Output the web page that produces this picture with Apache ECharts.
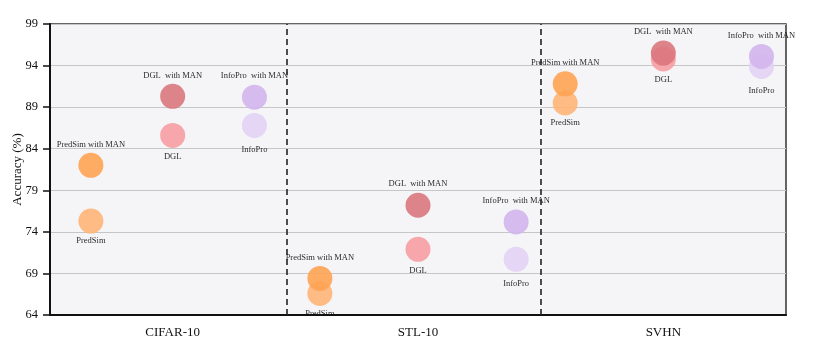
<!DOCTYPE html>
<html>
<head>
<meta charset="utf-8">
<script src="https://cdn.jsdelivr.net/npm/echarts@6/dist/echarts.min.js"></script>
<style>html,body{margin:0;padding:0;background:#fff;}#c{width:819px;height:359px;}</style>
</head>
<body>
<div id="c"></div>
<script>
// Dataset (x-axis tick) labels and their positions
const datasets = ['CIFAR-10', 'STL-10', 'SVHN'];
const datasetPos = [1.5, 4.5, 7.5];
const separators = [2.9, 6.0];

// x positions of each method within each dataset group
const xPredSim = [0.5, 3.3, 6.3];
const xDGL = [1.5, 4.5, 7.5];
const xInfoPro = [2.5, 5.7, 8.7];

// Accuracy values (%)
const predSimMAN = [82.0, 68.4, 91.8];
const predSim = [75.3, 66.6, 89.5];
const dglMAN = [90.3, 77.2, 95.5];
const dgl = [85.6, 71.9, 94.8];
const infoProMAN = [90.2, 75.2, 95.1];
const infoPro = [86.8, 70.7, 93.9];

const yTicks = [64, 69, 74, 79, 84, 89, 94, 99];

const FONT = '"Liberation Serif", "DejaVu Serif", serif';

function pts(xs, ys) { return xs.map((x, i) => [x, ys[i]]); }

function mk(name, text, xs, ys, color, pos, dist) {
  return {
    name: name,
    type: 'scatter',
    symbolSize: 25,
    data: pts(xs, ys),
    itemStyle: { color: color, opacity: 0.9 },
    label: {
      show: true,
      position: pos,
      distance: dist,
      formatter: text,
      fontFamily: FONT,
      fontSize: 8.5,
      color: '#111'
    },
    emphasis: { disabled: true }
  };
}

const series = [
  mk('PredSim', 'PredSim', xPredSim, predSim, '#FFB575', 'bottom', 3),
  mk('PredSim with MAN', 'PredSim with MAN', xPredSim, predSimMAN, '#FFA352', 'top', 4),
  mk('DGL', 'DGL', xDGL, dgl, '#F79EA2', 'bottom', 4),
  mk('DGL with MAN', 'DGL  with MAN', xDGL, dglMAN, '#DA777D', 'top', 4),
  mk('InfoPro', 'InfoPro', xInfoPro, infoPro, '#E2D3F3', 'bottom', 7),
  mk('InfoPro with MAN', 'InfoPro  with MAN', xInfoPro, infoProMAN, '#D3B5EC', 'top', 4)
];

series[0].markLine = {
  silent: true,
  symbol: ['none', 'none'],
  label: { show: false },
  lineStyle: { color: '#222', type: [6, 4], width: 1.6 },
  data: separators.map(v => ({ xAxis: v }))
};

const chart = echarts.init(document.getElementById('c'), null, { renderer: 'canvas' });
chart.setOption({
  animation: false,
  backgroundColor: '#ffffff',
  grid: {
    left: 50, right: 33, top: 24, bottom: 44,
    containLabel: false,
    outerBoundsMode: 'none',
    show: true,
    backgroundColor: '#F5F5F8',
    borderColor: '#333',
    borderWidth: 1.5
  },
  xAxis: {
    type: 'value',
    min: 0, max: 9, interval: 1.5,
    axisLine: { show: true, onZero: false, lineStyle: { color: '#111', width: 2 } },
    axisTick: { show: false },
    splitLine: { show: false },
    axisLabel: {
      fontFamily: FONT, fontSize: 13, color: '#111', margin: 11,
      formatter: function (v) {
        const i = datasetPos.findIndex(p => Math.abs(p - v) < 1e-6);
        return i >= 0 ? datasets[i] : '';
      }
    }
  },
  yAxis: {
    type: 'value',
    min: yTicks[0], max: yTicks[yTicks.length - 1], interval: 5,
    name: 'Accuracy (%)',
    nameLocation: 'middle',
    nameGap: 26,
    nameMoveOverlap: false,
    nameTextStyle: { fontFamily: FONT, fontSize: 13, color: '#111' },
    axisLine: { show: true, lineStyle: { color: '#111', width: 2 } },
    axisTick: { show: true, length: 7, lineStyle: { color: '#111', width: 1.5 } },
    splitLine: { show: true, lineStyle: { color: '#C6C6C6', width: 1 } },
    axisLabel: { fontFamily: FONT, fontSize: 12.5, color: '#111', margin: 12 }
  },
  series: series
});
</script>
</body>
</html>
